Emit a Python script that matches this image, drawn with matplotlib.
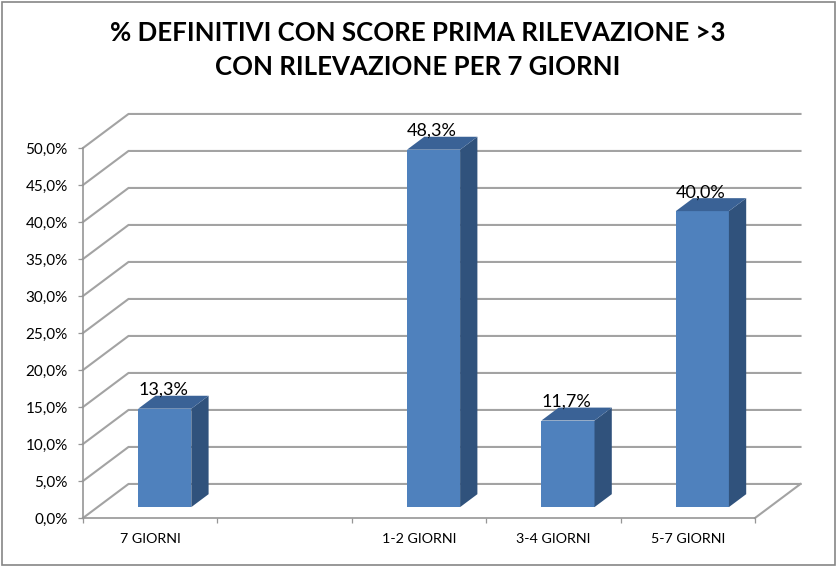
import numpy as np
import matplotlib
matplotlib.use('Agg')
import matplotlib.pyplot as plt
from matplotlib.patches import Rectangle

categories = ['7 GIORNI', '', '1-2 GIORNI', '3-4 GIORNI', '5-7 GIORNI']
values = [13.3, np.nan, 48.3, 11.7, 40.0]
value_labels = ['13,3%', '', '48,3%', '11,7%', '40,0%']
y_ticks = [0, 5, 10, 15, 20, 25, 30, 35, 40, 45, 50]
y_tick_labels = ['0,0%', '5,0%', '10,0%', '15,0%', '20,0%', '25,0%', '30,0%',
                 '35,0%', '40,0%', '45,0%', '50,0%']
title = '% DEFINITIVI CON SCORE PRIMA RILEVAZIONE >3\nCON RILEVAZIONE PER 7 GIORNI'

plt.rcParams['font.family'] = ['Lato', 'DejaVu Sans']

W, H = 837, 566
fig = plt.figure(figsize=(W / 100, H / 100), dpi=100)
ax = fig.add_axes([83 / W, (H - 518) / H, 672 / W, 370 / H])
ax.set_xlim(0, 5)
ax.set_ylim(0, 50)
ax.patch.set_visible(False)

# fake 3d: depth of the walls and of the bars, in data units
depth_x = 45.5 / 134.4
depth_y = 4.6
bar_w = 0.395
bar_start = 0.32
bar_end = 0.70

grid_col = '#a3a3a3'
for v in y_ticks:
    ax.plot([0, depth_x, 5 + depth_x], [v, v + depth_y, v + depth_y], color=grid_col,
            lw=1.5, clip_on=False, zorder=1, solid_joinstyle='miter')
ax.plot([5, 5 + depth_x], [0, depth_y], color=grid_col, lw=1.5, clip_on=False, zorder=1)

for i, v in enumerate(values):
    if np.isnan(v):
        continue
    x0 = i + 0.5 - bar_w / 2 + bar_start * depth_x
    x1 = x0 + bar_w
    y0 = bar_start * depth_y
    y1 = v + y0
    dx = (bar_end - bar_start) * depth_x
    dy = (bar_end - bar_start) * depth_y
    # front
    ax.fill([x0, x1, x1, x0], [y0, y0, y1, y1], color='#4f81bd', lw=0, clip_on=False, zorder=3)
    # right side
    ax.fill([x1, x1 + dx, x1 + dx, x1], [y0, y0 + dy, y1 + dy, y1], color='#30527c', lw=0,
            clip_on=False, zorder=3)
    # top
    ax.fill([x0, x1, x1 + dx, x0 + dx], [y1, y1, y1 + dy, y1 + dy], color='#3a6296', lw=0,
            clip_on=False, zorder=3)
    ax.annotate(value_labels[i], (x0 + bar_w / 2, y1), xytext=(-1, 13.5), textcoords='offset points',
                ha='center', va='center', fontsize=13, color='black', zorder=5)

ax.spines['top'].set_visible(False)
ax.spines['right'].set_visible(False)
for side in ['left', 'bottom']:
    ax.spines[side].set_color('#969696')
    ax.spines[side].set_linewidth(1.2)

ax.set_yticks(y_ticks)
ax.set_yticklabels(y_tick_labels, fontsize=11)
ax.tick_params(axis='y', length=3.6, width=0.9, color='#969696', pad=7.5)

ax.set_xticks(np.arange(6))
ax.set_xticklabels([])
ax.tick_params(axis='x', which='major', length=3.6, width=0.9, color='#969696')
ax.set_xticks(np.arange(5) + 0.5, minor=True)
ax.set_xticklabels(categories, minor=True, fontsize=10.3)
ax.tick_params(axis='x', which='minor', length=0, pad=11)

fig.text(417.5 / W, 1 - 50 / H, title, ha='center', va='center', fontsize=18.6,
         fontweight='bold', color='black', linespacing=1.5)

# chart area border
fig.add_artist(Rectangle((2 / W, 1 - 564.5 / H), 833 / W, 563 / H, transform=fig.transFigure,
                         fill=False, edgecolor='#868686', lw=1.2))

fig.savefig('out.png', dpi=100, facecolor='white')
